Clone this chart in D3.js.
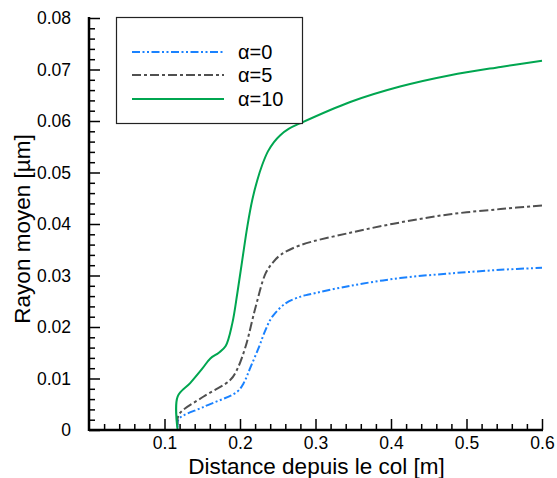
<!DOCTYPE html>
<html>
<head>
<meta charset="utf-8">
<script src="https://cdn.jsdelivr.net/npm/d3@7"></script>
<style>
  html, body { margin: 0; padding: 0; background: #fff; }
  svg { display: block; font-family: "Liberation Sans", Arial, sans-serif; }
</style>
</head>
<body>
<svg id="chart" width="557" height="478"></svg>
<script>
// ---- data ----
const seriesNames = ["α=0", "α=5", "α=10"];

const x0 = [0.1174, 0.1187, 0.152, 0.196, 0.2048, 0.2137, 0.2251, 0.2340, 0.2428, 0.2604, 0.2803, 0.291, 0.346, 0.412, 0.4785, 0.545, 0.6];
const y0 = [0.0005, 0.0021, 0.0045, 0.0074, 0.0091, 0.0121, 0.0161, 0.0195, 0.0220, 0.0246, 0.0259, 0.0263, 0.0280, 0.0295, 0.0304, 0.0311, 0.0315];

const x5 = [0.1174, 0.119, 0.1518, 0.187, 0.196, 0.2074, 0.2207, 0.2339, 0.2440, 0.2538, 0.2803, 0.346, 0.412, 0.4785, 0.545, 0.6];
const y5 = [0.0010, 0.0030, 0.0065, 0.0097, 0.0117, 0.0162, 0.0239, 0.0304, 0.0326, 0.0340, 0.0359, 0.0383, 0.0403, 0.0419, 0.0429, 0.0436];

const x10 = [0.1174, 0.1174, 0.134, 0.150, 0.1607, 0.172, 0.181, 0.1898, 0.1964, 0.203, 0.2097, 0.2163, 0.2229, 0.2295, 0.2370, 0.2450, 0.2530, 0.2649, 0.2803, 0.346, 0.412, 0.4785, 0.545, 0.6];
const y10 = [0, 0.0065, 0.0091, 0.0119, 0.0139, 0.0150, 0.0163, 0.0207, 0.0265, 0.0330, 0.0395, 0.0447, 0.0485, 0.0515, 0.0541, 0.0559, 0.0572, 0.0585, 0.0596, 0.0637, 0.0667, 0.0689, 0.0705, 0.0717];

const xTicks = [0.1, 0.2, 0.3, 0.4, 0.5, 0.6];
const yTicks = [0, 0.01, 0.02, 0.03, 0.04, 0.05, 0.06, 0.07, 0.08];
const xTitle = "Distance depuis le col [m]";
const yTitle = "Rayon moyen [µm]";

// ---- styles ----
const styles = [
  { color: "#1a82ff", dash: "8,2.5,2,2.5,2,2.5" },
  { color: "#505050", dash: "9,3,3,3" },
  { color: "#00a650", dash: null }
];

const svg = d3.select("#chart");
const L = 89, R = 542, T = 18, B = 430;

const x = d3.scaleLinear().domain([0, 0.6]).range([L, R]);
const y = d3.scaleLinear().domain([0, 0.08]).range([B, T]);

const series = [
  d3.zip(x0, y0),
  d3.zip(x5, y5),
  d3.zip(x10, y10)
];

const line = d3.line()
  .x(d => x(d[0]))
  .y(d => y(d[1]))
  .curve(d3.curveCatmullRom.alpha(0.5));

// curves
series.forEach((s, i) => {
  svg.append("path")
    .datum(s)
    .attr("fill", "none")
    .attr("stroke", styles[i].color)
    .attr("stroke-width", 2)
    .attr("stroke-dasharray", styles[i].dash)
    .attr("d", line);
});

// axes
const xMinor = d3.range(0.02, 0.6001, 0.02).filter(v => Math.abs(v * 10 - Math.round(v * 10)) > 1e-6);
const yMinor = d3.range(0.002, 0.0801, 0.002).filter(v => Math.abs(v * 100 - Math.round(v * 100)) > 1e-6);

const xAxisG = svg.append("g").attr("transform", `translate(0,${B})`);
xAxisG.call(d3.axisBottom(x).tickValues(xMinor).tickSize(-6).tickFormat(""))
  .call(g => g.select(".domain").remove());
const xMajor = svg.append("g").attr("transform", `translate(0,${B})`)
  .call(d3.axisBottom(x).tickValues(xTicks).tickSize(-11).tickFormat(d3.format(".1f")).tickPadding(9));
xMajor.select(".domain").remove();
xMajor.selectAll(".tick text").attr("font-size", 17.5).attr("fill", "#000")
  .attr("dy", null).attr("y", 19);

const yAxisG = svg.append("g").attr("transform", `translate(${L},0)`);
yAxisG.call(d3.axisLeft(y).tickValues(yMinor).tickSize(-6).tickFormat(""))
  .call(g => g.select(".domain").remove());
const yMajor = svg.append("g").attr("transform", `translate(${L},0)`)
  .call(d3.axisLeft(y).tickValues(yTicks).tickSize(-11)
    .tickFormat(d => d === 0 ? "0" : d3.format(".2f")(d)).tickPadding(18));
yMajor.select(".domain").remove();
yMajor.selectAll(".tick text").attr("font-size", 17.5).attr("fill", "#000");
svg.selectAll(".tick line").attr("stroke", "#000").attr("stroke-width", 1.5);

// axis lines
svg.append("line").attr("x1", L).attr("x2", R + 1).attr("y1", B).attr("y2", B)
  .attr("stroke", "#000").attr("stroke-width", 2.5);
svg.append("line").attr("x1", L).attr("x2", L).attr("y1", T - 1).attr("y2", B + 1)
  .attr("stroke", "#000").attr("stroke-width", 2.5);

// titles
svg.append("text").attr("x", (L + R) / 2 + 1).attr("y", 474)
  .attr("text-anchor", "middle").attr("font-size", 22.5).attr("fill", "#000")
  .text(xTitle);
svg.append("text").attr("transform", `translate(30,${229}) rotate(-90)`)
  .attr("text-anchor", "middle").attr("font-size", 22.5).attr("fill", "#000")
  .text(yTitle);

// legend
const lg = svg.append("g");
lg.append("rect").attr("x", 116.5).attr("y", 17.5).attr("width", 186).attr("height", 106)
  .attr("fill", "#fff").attr("stroke", "#222").attr("stroke-width", 1.2);
const legY = [52, 75, 99];
seriesNames.forEach((name, i) => {
  lg.append("line").attr("x1", 132).attr("x2", 224).attr("y1", legY[i]).attr("y2", legY[i])
    .attr("stroke", styles[i].color).attr("stroke-width", 2)
    .attr("stroke-dasharray", styles[i].dash);
  lg.append("text").attr("x", 238).attr("y", legY[i]).attr("dy", "0.35em")
    .attr("font-size", 20).attr("fill", "#000").text(name);
});
</script>
</body>
</html>
